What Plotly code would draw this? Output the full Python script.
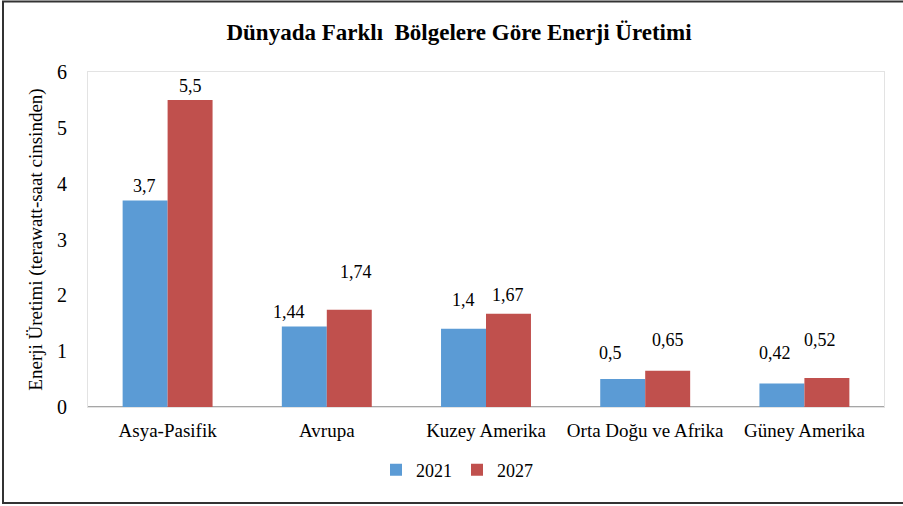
import plotly.graph_objects as go

categories = ["Asya-Pasifik", "Avrupa", "Kuzey Amerika", "Orta Doğu ve Afrika", "Güney Amerika"]
values_2021 = [3.7, 1.44, 1.4, 0.5, 0.42]
values_2027 = [5.5, 1.74, 1.67, 0.65, 0.52]
labels_2021 = ["3,7", "1,44", "1,4", "0,5", "0,42"]
labels_2027 = ["5,5", "1,74", "1,67", "0,65", "0,52"]
y_ticks = [0, 1, 2, 3, 4, 5, 6]

# label placement (pixel offsets above bar top / horizontal nudge)
lift_2021 = [14, 15, 29, 26, 31]
lift_2027 = [14, 38, 19, 31, 38]
nudge_2021 = [0, -15, 0, -12, -7]
nudge_2027 = [0, 6, -1, 0, -7]

BLUE = "#5B9BD5"
RED = "#C0504D"
FONT = "'Liberation Serif', 'Times New Roman', 'DejaVu Serif', serif"

W, H = 903, 506
ML, MR, MT, MB = 88, 19, 72, 99
PW, PH = W - ML - MR, H - MT - MB

fig = go.Figure()
fig.add_trace(go.Bar(name="2021", x=categories, y=values_2021, marker=dict(color=BLUE, line=dict(width=0))))
fig.add_trace(go.Bar(name="2027", x=categories, y=values_2027, marker=dict(color=RED, line=dict(width=0))))

bar_w = 45.5
for i, c in enumerate(categories):
    fig.add_annotation(x=c, y=values_2021[i], text=labels_2021[i], showarrow=False,
                       xshift=-bar_w / 2 + nudge_2021[i], yshift=lift_2021[i],
                       font=dict(family=FONT, size=18, color="#000"), yanchor="middle")
    fig.add_annotation(x=c, y=values_2027[i], text=labels_2027[i], showarrow=False,
                       xshift=bar_w / 2 + nudge_2027[i], yshift=lift_2027[i],
                       font=dict(family=FONT, size=18, color="#000"), yanchor="middle")

# outer frame
fig.add_shape(type="rect", xref="paper", yref="paper",
              x0=(3 - ML) / PW, x1=(W + 10 - ML) / PW,
              y0=-(MB - 3) / PH, y1=1 + (MT - 1.5) / PH,
              line=dict(color="#333", width=2), fillcolor="rgba(0,0,0,0)", layer="below")

fig.update_layout(
    width=W, height=H,
    margin=dict(l=ML, r=MR, t=MT, b=MB, autoexpand=False),
    paper_bgcolor="white", plot_bgcolor="white",
    barmode="group", bargap=0.435, bargroupgap=0,
    font=dict(family=FONT, size=18, color="#000"),
    title=dict(text="<b>Dünyada Farklı  Bölgelere Göre Enerji Üretimi</b>",
               x=(459 - ML) / PW, xref="paper", xanchor="center", y=1 - 32 / H, yanchor="middle",
               font=dict(family=FONT, size=23, color="#000")),
    legend=dict(orientation="h", x=457 / W, xanchor="center", xref="container",
                y=(H - 470) / H, yref="container", yanchor="middle",
                font=dict(family=FONT, size=18), itemwidth=30, traceorder="normal"),
    xaxis=dict(showgrid=False, ticks="", tickfont=dict(family=FONT, size=19), automargin=False,
               ticklabelstandoff=6,
               showline=True, linecolor="#e3e3e3", mirror=True, linewidth=1),
    yaxis=dict(range=[0, 6], tickvals=y_ticks, showgrid=False, ticks="", automargin=False,
               tickfont=dict(family=FONT, size=20), ticklabelstandoff=16,
               zeroline=True, zerolinecolor="#a6a6a6", zerolinewidth=1.5,
               showline=True, linecolor="#e3e3e3", mirror=True, linewidth=1,
               title=dict(text="Enerji Üretimi (terawatt-saat cinsinden)",
                          font=dict(family=FONT, size=19), standoff=9)),
)

fig.write_html("out.html", config={"displayModeBar": False},
               post_script="document.body.style.margin='0';document.body.style.padding='0';")
